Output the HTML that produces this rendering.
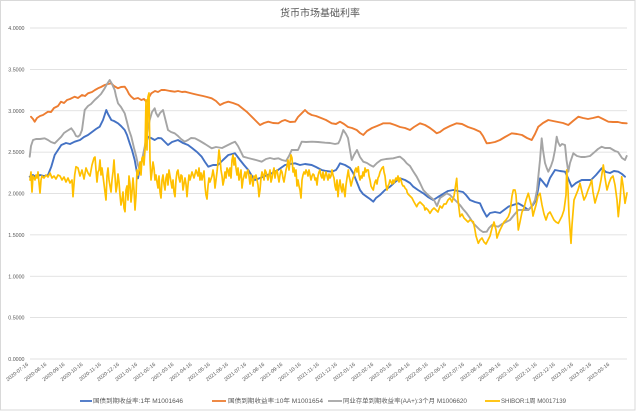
<!DOCTYPE html>
<html><head><meta charset="utf-8"><style>
html,body{margin:0;padding:0;background:#fff;}
svg{display:block;}
text{font-family:"Liberation Sans","Noto Sans CJK SC",sans-serif;fill:#595959;}
</style></head><body>
<svg width="640" height="412" viewBox="0 0 640 412" xmlns="http://www.w3.org/2000/svg">
<rect x="0" y="0" width="640" height="412" fill="#fff"/>
<rect x="0.5" y="0.5" width="634.5" height="409.5" fill="none" stroke="#d9d9d9" stroke-width="1"/>
<text x="320" y="16.5" font-size="10" text-anchor="middle">货币市场基础利率</text>
<g stroke="#d9d9d9" stroke-width="0.8">
<line x1="30" y1="28" x2="627" y2="28"/>
<line x1="30" y1="69.4" x2="627" y2="69.4"/>
<line x1="30" y1="110.75" x2="627" y2="110.75"/>
<line x1="30" y1="152.1" x2="627" y2="152.1"/>
<line x1="30" y1="193.5" x2="627" y2="193.5"/>
<line x1="30" y1="234.9" x2="627" y2="234.9"/>
<line x1="30" y1="276.25" x2="627" y2="276.25"/>
<line x1="30" y1="317.6" x2="627" y2="317.6"/>
<line x1="30" y1="359" x2="627" y2="359"/>
</g>
<g font-size="5.3" text-anchor="end">
<text x="24.5" y="30">4.0000</text>
<text x="24.5" y="71.4">3.5000</text>
<text x="24.5" y="112.8">3.0000</text>
<text x="24.5" y="154.1">2.5000</text>
<text x="24.5" y="195.5">2.0000</text>
<text x="24.5" y="236.9">1.5000</text>
<text x="24.5" y="278.3">1.0000</text>
<text x="24.5" y="319.6">0.5000</text>
<text x="24.5" y="361">0.0000</text>
</g>
<g font-size="5.2" text-anchor="end">
<text transform="translate(28.7,365) rotate(-38)">2020-07-16</text>
<text transform="translate(46.86,365) rotate(-38)">2020-08-16</text>
<text transform="translate(65.02,365) rotate(-38)">2020-09-16</text>
<text transform="translate(83.18,365) rotate(-38)">2020-10-16</text>
<text transform="translate(101.34,365) rotate(-38)">2020-11-16</text>
<text transform="translate(119.5,365) rotate(-38)">2020-12-16</text>
<text transform="translate(137.66,365) rotate(-38)">2021-01-16</text>
<text transform="translate(155.82,365) rotate(-38)">2021-02-16</text>
<text transform="translate(173.98,365) rotate(-38)">2021-03-16</text>
<text transform="translate(192.14,365) rotate(-38)">2021-04-16</text>
<text transform="translate(210.3,365) rotate(-38)">2021-05-16</text>
<text transform="translate(228.46,365) rotate(-38)">2021-06-16</text>
<text transform="translate(246.62,365) rotate(-38)">2021-07-16</text>
<text transform="translate(264.78,365) rotate(-38)">2021-08-16</text>
<text transform="translate(282.94,365) rotate(-38)">2021-09-16</text>
<text transform="translate(301.1,365) rotate(-38)">2021-10-16</text>
<text transform="translate(319.26,365) rotate(-38)">2021-11-16</text>
<text transform="translate(337.42,365) rotate(-38)">2021-12-16</text>
<text transform="translate(355.58,365) rotate(-38)">2022-01-16</text>
<text transform="translate(373.74,365) rotate(-38)">2022-02-16</text>
<text transform="translate(391.9,365) rotate(-38)">2022-03-16</text>
<text transform="translate(410.06,365) rotate(-38)">2022-04-16</text>
<text transform="translate(428.22,365) rotate(-38)">2022-05-16</text>
<text transform="translate(446.38,365) rotate(-38)">2022-06-16</text>
<text transform="translate(464.54,365) rotate(-38)">2022-07-16</text>
<text transform="translate(482.7,365) rotate(-38)">2022-08-16</text>
<text transform="translate(500.86,365) rotate(-38)">2022-09-16</text>
<text transform="translate(519.02,365) rotate(-38)">2022-10-16</text>
<text transform="translate(537.18,365) rotate(-38)">2022-11-16</text>
<text transform="translate(555.34,365) rotate(-38)">2022-12-16</text>
<text transform="translate(573.5,365) rotate(-38)">2023-01-16</text>
<text transform="translate(591.66,365) rotate(-38)">2023-02-16</text>
<text transform="translate(609.82,365) rotate(-38)">2023-03-16</text>
</g>
<g fill="none" stroke-linejoin="round" stroke-linecap="round">
<polyline stroke="#4472C4" stroke-width="1.9" points="29.7,176.7 33,175 36,177 40,175 44,176 48,175 51.3,166.7 54.7,155 58,150 61.3,145 66,143 70,144 74.7,141.7 80,140 84,137 88,135 92,132 96,129 99.7,126.7 103,120 106.3,110 108,114 111.3,120 114,121 118,123.3 121,126 124.7,130 127,135 129.7,143.3 132,150 134.7,160 136.5,170 138,178.3 140,168 143,156.7 145.5,146 148,136.7 151,138 154.7,140 158,138 161.3,138.3 164,141 168,145 172,142 178,140 183,143 188,145 192,148 197,152 201.7,156.7 205,162 208.3,166.7 213,165 218,165 223,160 228.3,155 235,153.3 240,160 244,165 248.3,170 252,176 255,180 260,178 265,176 271.7,173.3 278,170 285,165 290,164 295,163.3 300,165 305,164 311.7,165 316,167 321.7,170 326,171 331.7,171.7 336,170 338,167 340,163.3 345,165 350,168 353.3,173.3 356,180 360,190 363,194 366.7,196.7 370,199 373.3,201.7 376,198 380,195 385,190 390,186.7 395,182 400,178.3 405,180 410,183 413.3,186.7 418,190 423.3,193.3 428,197 433.3,200 438,197 443,194 448,191 453.3,190 458,191 463,192 466,195 470,200 475,202 480,203.3 483,210 486.7,216.7 490,213 495,212 500,213 504,210 508.3,206.7 513,205 518.3,203.3 523,206 528.3,210 533,205 536,200 538,190 540,178.3 543,182 546.7,186.7 550,178 555,170 560,171 565,171.7 568,178 571.7,186.7 576,183 581.7,180 586,180 591,180 596,175 601.7,168.3 606,172 610,173 614,171 618.3,171.7 622,174 625,176.7"/>
<polyline stroke="#ED7D31" stroke-width="1.9" points="31,116.7 33,119 34.7,121.7 37,118 40,116 43,115 46,113 48,111.7 51,112 54,108 58,106 61,101.7 64,103 67,100 70,99 74.7,96.7 78,98 82,95 85,96 88,93.3 92,92 95,90 98,88.3 101,87 104.7,85 108,84 111.3,83.3 114,86 118,88.3 121,87 124.7,86.7 127,90 129,94 131.3,96.7 134,99 138,98 141.3,100 144,99 146.3,101.7 148,99 151.3,93.3 155,91 158,92 161.3,90 165,90 170,91 174.7,91.7 178,91 182,92 185,91.7 190,93 194,94 198.3,95 203,96 207,97 211.7,98.3 216,101 220,105 224,103 228.3,101.7 233,103 238.3,105 242,108 246.7,111.7 249,114 251.7,116.7 255,120 258,123 260,125 264,123 268.3,121.7 273,123 278.3,123.3 282,121 285,120 290,122 295,121.7 298,117 301.7,113.3 305,110 308,113 311.7,115 316,116 321.7,118.3 326,120 331.7,123.3 336,124 340,121.7 344,124 348,127 352,128 356.7,130 360,133 363.3,135 367,131 372,128 377,126 383.3,123.3 390,123.3 395,125 400,127 405,128 410,130 414,127 420,123.3 425,125 430,128 434,131 436.7,133.3 440,132 444,129 450,126 456.7,123.3 462,124 468,127 474,129 480,131.7 483,136 486.7,143.3 490,143 495,142 500,140 505,137 511.7,133.3 517,134 522,135 527,138 531.7,140 535,134 538.3,126.7 543,123 548.3,120 553,121 558,122 563,123 568.3,125 573,121 578.3,116.7 583,118 588,119 593,118 598.3,116.7 603,119 608.3,121.7 613,122 618,122 622,123 626.7,123.3"/>
<polyline stroke="#A5A5A5" stroke-width="1.9" points="29.7,156.7 31,146 33,140 36,139 40,139 44.7,138.3 48,140 51,142 54.7,143.3 58,140 61.3,136.7 64,133 67,131 71.3,128.3 74,132 76,136 78,136.7 80,135 82,130 84.7,110 88,106 91,104 94.7,100 98,97 101,94 104.7,88.3 107,84 109.7,80 112,84 114.7,90 116,96 118,103.3 121,107 124.7,113.3 127,122 129,130 131.3,136.7 134,148 136.3,156.7 138,165 139.7,170 142,160 144.7,146.7 147,133 149.7,120 152,112 154.7,108.3 156,113 158,116.7 160,113 163,110 165,118 168,130 171,132 174.7,133.3 178,136 181,139 184.7,141.7 188,140 191,138 195,138.3 200,141 205,144 211.7,148.3 216,147 222,148 228,145 232,143 235,141.7 238,146 240,150 243.3,156.7 248,158 252,159 256,160 261.7,161.7 266,159 270,158 274,159 278.3,158.3 282,160 286,161 289,156 291.7,150 295,150 298,150 301.7,141.7 306,142 312,141.7 318,142 325,142.7 330,143 335,144 338.3,143.3 340,140 343.3,130 346,134 348,138 350,150 351.7,160 354,155 357,150 360,157 363.3,161.7 367,163 370,165 373.3,166.7 377,163 381,160 386,159 393.3,158.3 398,157 400,156.7 404,160 406.7,163.3 410,166 413,171 416.7,176.7 420,183 423.3,190 427,194 430,196.7 434,200 437,206 440,198 443,196 446.7,193.3 450,195 453,198 456,201 460,205 463,209 466.7,213.3 470,218 473.3,223.3 477,227 480,230 483,232 486.7,231.7 489,228 492,225 495,226 498.3,226.7 502,224 506,222 510,220 514,215 518.3,210 523,210 528,210 532,206 535,200 537,190 538.3,176.7 540,160 541.7,138.3 543,150 545,163 546.7,168 548.3,171.7 551,166 553,160 555,150 556.7,136.7 558,142 560,146 562,144 565,145 566.5,160 568.3,171.7 570,163 573.3,153.3 577,156 581,157 585,157 590,156 595,151.7 598,149 601.7,146.7 605,148 610,148 615,151 618,152 620,155 622,158 625,160 626.7,156"/>
<polyline stroke="#FFC000" stroke-width="1.7" points="30,180 31,172 32,192 33,176 35,180 36,175 37,178 38,172 40,193 41,180 42,176 44,178 46,175 48,177 50,173 52,178 54,176 56,179 58,175 60,176 62,180 64,177 66,182 68,178 70,183 72,180 73,196.7 74.7,175 76,166.7 78,168 80,176 82,170 84,179 86,168 88,173 90,176 92,165 94,158 95,157 96,170 97,182 98,172 99,170 100,160 101,175 102,168 104,184 105,192 106,200 107,176 108,168 109,180 110,186 111,192 112,180 113,172 114,160 115,176 116,192 117,186 118,174 119,182 120,195 121,205 122,200 123,192 124,208 125,211.7 126,190 127,186 128,200 129,176 130,184 131,202 132,192 133,178 134,190 135,210 136,196 137,170 138,175 139,170 140,162 141,175 142,158 143,156.7 144,165 145,150 146,100 147,150 148,96.7 149,93 150,160 151,180 152,172 153,162 154,168 155,180 156,175 157,182 158,188 159,176 160,192 161,198 162,180 163,175 164,184 165,190 166,178 167,174 168,185 169,170 170,176 171,182 172,188 173,180 174,192 175,196.7 176,180 177,172 178,170 179,178 180,182 181,175 182,176 183,190 184,184 185,178 186,184 187,196.7 188,185 189,175 190,180 192,172 194,178 196,170 198,176 199,168 200,180 201,173 202,180 204,171 205,186 206,195 207,199 208,186 209,178 210,182 212,176 213,170 214,176 215,188 216,180 217,172 218,162 219,150 220,158 221,170 222,176 223,185 224,180 225,172 226,178 227,168 228,170 229,176 230,168 231,178 232,160 233,155 234,165 235,158 236,168 237,175 238,168 239,180 240,176 241,170 242,188 243,180 244,176 245,172 246,178 247,172 248,170 249,176 250,184 251,175 252,180 253,186 254,176 255,178 256,175 257,180 258,185 259,196.7 260,190 261,178 262,172 263,175 264,180 265,170 266,172 267,176 268,180 269,175 270,170 271,182 272,178 273,172 274,168 275,178 276,172 277,170 278,176 279,182 280,175 281,170 282,172 283,178 284,182 285,176 286,170 287,166 288,160 289,170 290,162 291,155 292,158 293,172 294,168 295,176 296,170 297,186 298,180 299,186 300,190 301,198 302,180 303,175 304,172 305,174 306,170 307,172 308,176 309,170 310,175 311,180 312,176 313,174 314,175 315,180 316,178 317,185 318,176 319,172 320,170 321,176 322,178 323,172 324,180 325,176 326,172 327,176 328,180 329,174 330,178 331,176 332,170 333,175 334,178 335,186 336,190 337,180 338,196.7 339,186 340,180 341,188 342,192 343,184 344,190 345,196.7 346,185 347,178 348.3,170 349,176 350,180 351,186 352,182 353,178 354,176 355,170 356,168 357,172 358.3,166.7 359,175 360,180 361,176 362,178 363,172 364,176 365,168 366,172 367,170 368.3,170 369,176 370,180 371,186 372,188 373.3,190 374,186 375,182 376,180 377,184 378,178 379,176 380,172 381,170 382,168 383.3,166.7 384,172 385,176 386,185 387,190 388,186 389,184 390,180 391,182 392,184 393,180 394,183 395,180 396,178 397,180 398,176 399,182 400,178 401,180 402,184 403,186 404,186 405,188 406.7,190 407,192 408,194 410,196 412,198 414,202 416.7,206.7 418,204 420,202 422,204 424,206 425,210 426,208 428,210 430,213.3 432,210 434,208 436,210 438,212 440,206 442,208 444,204 446,204 448,200 450,198 452,202 454,196 456.7,178.3 458,200 460,216.7 462,214 464,218 466,220 468,222 470,220 473.3,221.7 475,230 476,236 478.3,243.3 480,240 482,238 484,242 486,244 488,240 490,236 492,228 494,222 496,230 497,238 498,235 500,230 502,226 504,222 506,220 508.3,216.7 510,212 512,196 513.3,190 515,190 516,195 517,210 518.3,230 520,222 522,212 524,208 526,200 528.3,193.3 530,200 532,208 533,216 534,212 536,205 538,196 540,193.3 542,205 544,214 546,220 548,214 550,212 552,216 554,220 556,222 558.3,223.3 560,220 562,216 564,210 566,195 566.7,170 568,190 569,215 571,243.3 572,225 574,200 576,195 578,190 580,183.3 582,192 584,200 586,196 588,190 590,185 591.7,180 593,192 595,203 597,196 599,190 601,180 603.3,165 605,178 607,190 609,183 611,178 613,176 615,185 617,200 618.3,216.7 620,200 621.7,176.7 623,185 625,203.3 627,193"/>
</g>
<g stroke-width="1.8">
<line x1="80" y1="401" x2="92" y2="401" stroke="#4472C4"/>
<line x1="212" y1="401" x2="226" y2="401" stroke="#ED7D31"/>
<line x1="328" y1="401" x2="342" y2="401" stroke="#A5A5A5"/>
<line x1="485" y1="401" x2="500" y2="401" stroke="#FFC000"/>
</g>
<g font-size="6.2">
<text x="93" y="403.2" textLength="90" lengthAdjust="spacingAndGlyphs">国债到期收益率:1年 M1001646</text>
<text x="228" y="403.2" textLength="95" lengthAdjust="spacingAndGlyphs">国债到期收益率:10年 M1001654</text>
<text x="343" y="403.2" textLength="124" lengthAdjust="spacingAndGlyphs">同业存单到期收益率(AA+):3个月 M1006620</text>
<text x="501" y="403.2" textLength="65" lengthAdjust="spacingAndGlyphs">SHIBOR:1周 M0017139</text>
</g>
</svg>
</body></html>
